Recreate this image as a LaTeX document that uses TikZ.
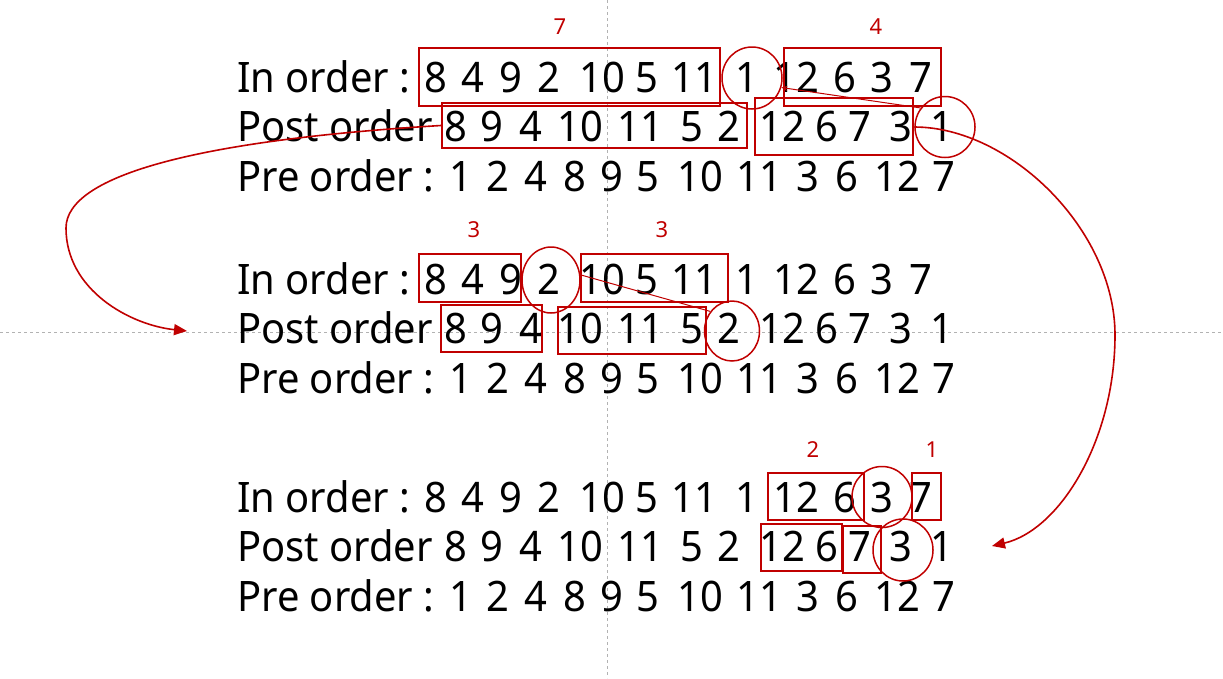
\documentclass[tikz,border=0pt]{standalone}
\usepackage{fontspec}
\setmainfont{Noto Sans}
\newfontfamily\rowfont[FakeStretch=0.95]{Noto Sans}
\usetikzlibrary{arrows.meta,shapes.geometric}
\definecolor{bred}{RGB}{192,0,0}

\begin{document}
\begin{tikzpicture}[x=1pt, y=-1pt,
  lbl/.style={anchor=base west, inner sep=0pt, font=\rowfont\fontsize{42}{42}\selectfont},
  digit/.style={anchor=base, inner sep=0pt, font=\rowfont\fontsize{42}{42}\selectfont},
  num/.style={text=bred, inner sep=0pt, font=\fontsize{22}{22}\selectfont},
  box/.style={draw=bred, line width=2pt, inner sep=0pt},
  ring/.style={draw=bred, line width=1.5pt, ellipse, inner sep=0pt},
  link/.style={draw=bred, line width=1pt},
  jump/.style={draw=bred, line width=1.6pt, -{Triangle[length=13pt,width=11pt]}},
  guide/.style={draw=gray!60, line width=0.8pt, dash pattern=on 3pt off 3pt}]
\useasboundingbox (0,0) rectangle (1223,678);
% guides
\draw[guide] (607,0) -- (607,678);
\draw[guide] (0,332) -- (1223,332);

% the three traversals, three times
\foreach \s/\y in {1/92, 2/294, 3/512} {
  \node[lbl] (inl\s) at (237,\y) {In order :};
  \foreach \t/\x [count=\i] in {8/436, 4/473, 9/511, 2/549, 10/602, 5/647, 11/694, 1/747, 12/796, 6/845, 3/882, 7/921}
    \node[digit] (in\s-\i) at (\x,\y) {\t};
  \node[lbl] (postl\s) at (237,\y+49) {Post order};
  \foreach \t/\x [count=\i] in {8/456, 9/492, 4/531, 10/580, 11/640, 5/692, 2/729, 12/782, 6/827, 7/860, 3/901, 1/942}
    \node[digit] (post\s-\i) at (\x,\y+49) {\t};
  \node[lbl] (prel\s) at (237,\y+99) {Pre order :};
  \foreach \t/\x [count=\i] in {1/461, 2/498, 4/536, 8/575, 9/612, 5/648, 10/700, 11/759, 3/808, 6/847, 12/897, 7/944}
    \node[digit] (pre\s-\i) at (\x,\y+99) {\t};
}

% step 1: root 1
\node[box, minimum width=301pt, minimum height=58pt] (ib1) at (569.5,77) {};
\node[ring, minimum width=60pt, minimum height=62pt] (ic1) at (752,78) {};
\node[box, minimum width=157pt, minimum height=58pt] (ib2) at (862.5,77) {};
\node[box, minimum width=305pt, minimum height=45pt] (pb1) at (594.5,125.5) {};
\node[box, minimum width=158pt, minimum height=57pt] (pb2) at (834,126.5) {};
\node[ring, minimum width=60pt, minimum height=61pt] (pc1) at (945,127) {};
\node[num] (n7) at (560,27) {7};
\node[num] (n4) at (876,27) {4};

% step 2: root 2
\node[box, minimum width=102pt, minimum height=48pt] (ib3) at (470,278) {};
\node[ring, minimum width=58pt, minimum height=66pt] (ic2) at (551,280) {};
\node[box, minimum width=147pt, minimum height=48pt] (ib4) at (654.5,278) {};
\node[box, minimum width=101pt, minimum height=47pt] (pb3) at (491.5,328.5) {};
\node[box, minimum width=148pt, minimum height=47pt] (pb4) at (632,330.5) {};
\node[ring, minimum width=55pt, minimum height=60pt] (pc2) at (732,331) {};
\node[num] (n3a) at (474,230) {3};
\node[num] (n3b) at (662,230) {3};

% step 3: root 3
\node[box, minimum width=96pt, minimum height=47pt] (ib5) at (816,496.5) {};
\node[ring, minimum width=60pt, minimum height=61pt] (ic3) at (882,497) {};
\node[box, minimum width=29pt, minimum height=47pt] (ib6) at (926.5,496.5) {};
\node[box, minimum width=81pt, minimum height=47pt] (pb5) at (801.5,547.5) {};
\node[box, minimum width=38pt, minimum height=47pt] (pb6) at (862,549.5) {};
\node[ring, minimum width=60pt, minimum height=62pt] (pc3) at (903,550) {};
\node[num] (n2) at (813,450) {2};
\node[num] (n1) at (932,450) {1};

\coordinate (lt) at (187,331);
\coordinate (rt) at (992,546);

\draw[link, -{Stealth[length=6pt,width=5pt]}] (pc1.142) -- (ic1.-18);
\draw[link] (ic2.10) -- (pc2.138);
\draw[jump] (pb1.west) .. controls (200,140) and (66,175) .. (66,228)
  .. controls (66,290) and (130,325) .. (lt);
\draw[jump] (pc1.west) .. controls (1010,127) and (1115,230) .. (1115,335)
  .. controls (1115,440) and (1060,530) .. (rt);
\end{tikzpicture}
\end{document}
